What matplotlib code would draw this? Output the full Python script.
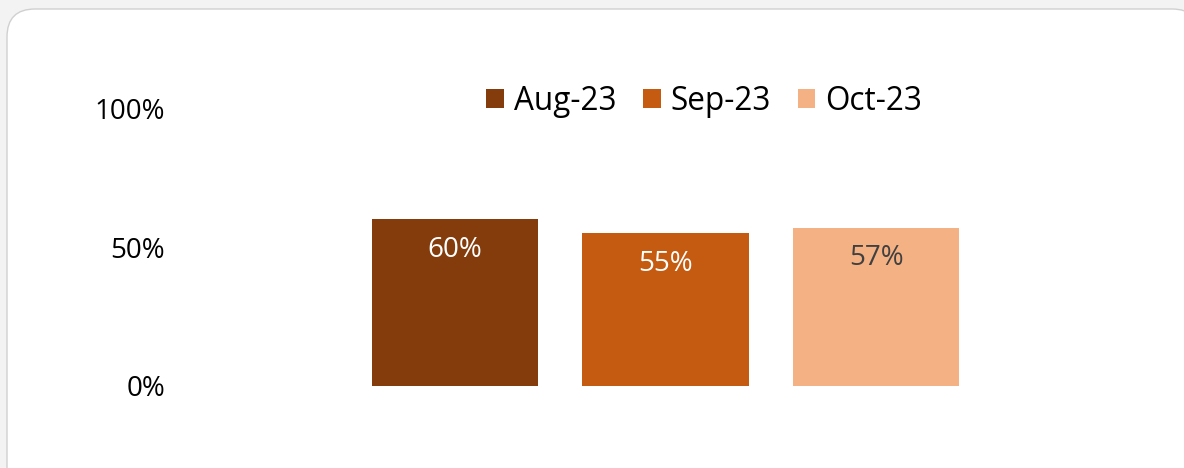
import matplotlib
matplotlib.use("Agg")
import matplotlib.pyplot as plt
from matplotlib.patches import FancyBboxPatch
from matplotlib.transforms import IdentityTransform
from matplotlib.ticker import PercentFormatter

# ---- data ----
series = ["Aug-23", "Sep-23", "Oct-23"]
values = [0.60, 0.55, 0.57]
labels = ["60%", "55%", "57%"]
colors = ["#843C0C", "#C55A11", "#F4B183"]
label_colors = ["#FFFFFF", "#FFFFFF", "#404040"]
yticks = [0, 0.5, 1.0]

W, H, DPI = 1184, 468, 100
fig = plt.figure(figsize=(W / DPI, H / DPI), dpi=DPI)
fig.patch.set_facecolor("#F3F3F3")

# card background (pixel coordinates)
R = 28
card = FancyBboxPatch((7 + R, -30 + R), 1200 - 7 - 2 * R, (H - 9) + 30 - 2 * R,
                      boxstyle=f"round,pad={R}", transform=IdentityTransform(),
                      facecolor="white", edgecolor="#D0D0D0", linewidth=1.0,
                      zorder=-10)
fig.patches.append(card)

# axes: left 175px, right 1155px, bottom 82px from bottom, top 360px
ax = fig.add_axes([175 / W, 82 / H, (1155 - 175) / W, (360 - 82) / H])
ax.set_facecolor("none")
ax.set_zorder(5)

xs = list(range(len(series)))
width = 0.789
for i, (s, v, c) in enumerate(zip(series, values, colors)):
    ax.bar(xs[i], v, width=width, color=c, label=s, zorder=2)
    ax.annotate(labels[i], xy=(xs[i], v), xytext=(0, -22), textcoords="offset points",
                ha="center", va="center", fontsize=20, color=label_colors[i],
                family="Open Sans", zorder=3)

ax.set_xlim(-1.330, 3.325)
ax.set_ylim(0, 1.0)
ax.set_yticks(yticks)
ax.yaxis.set_major_formatter(PercentFormatter(1.0, decimals=0))
ax.set_xticks([])
ax.tick_params(axis="y", length=0, pad=7.2, labelsize=20, labelcolor="#000000")
for lab in ax.get_yticklabels():
    lab.set_family("Open Sans")
for sp in ax.spines.values():
    sp.set_visible(False)

leg = fig.legend(loc="center", bbox_to_anchor=(704 / W, (H - 101) / H), ncol=3,
                 frameon=False, handlelength=0.57, handleheight=0.57,
                 handletextpad=0.3, columnspacing=0.85, borderpad=0,
                 prop={"family": "Open Sans", "size": 22.7})
leg.set_zorder(6)

fig.savefig("out.png", dpi=DPI, facecolor=fig.get_facecolor())
